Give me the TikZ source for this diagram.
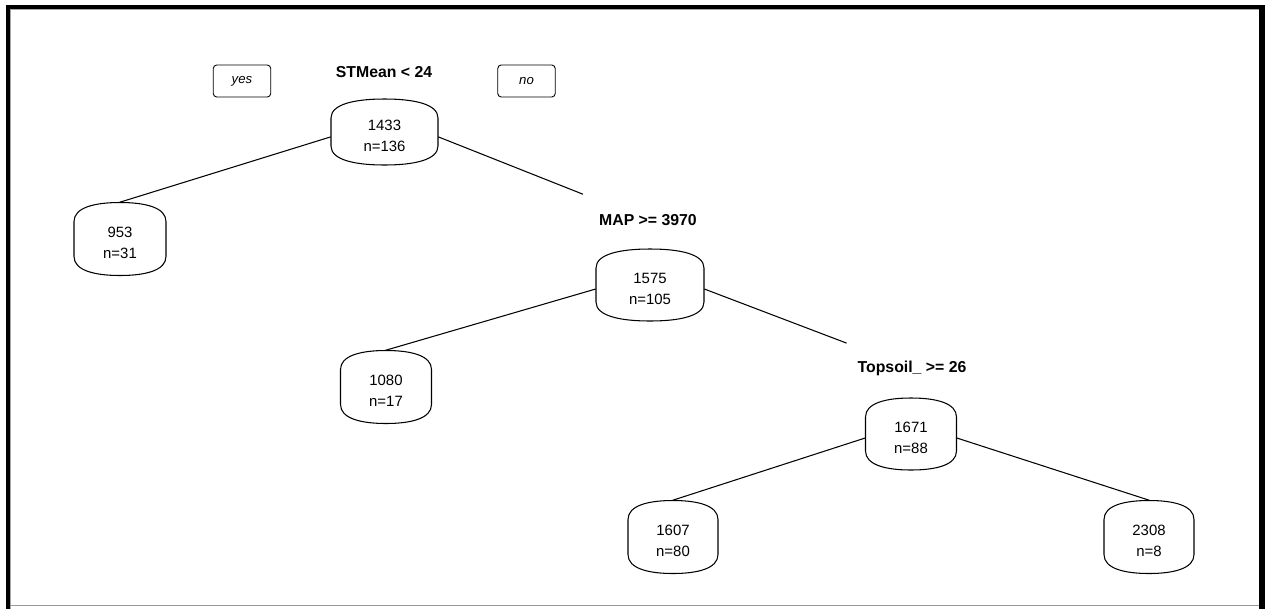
\documentclass[tikz,border=0pt]{standalone}
\usepackage{fontspec}
\setmainfont{Liberation Sans}

% #1 name, (#2,#3) centre, #4 half width, #5 half height, #6 text
\newcommand{\blob}[6]{%
  \draw[outline] (#2-#4,#3-#5+19) .. controls (#2-#4,#3-#5+5) and (#2-0.55*#4,#3-#5) .. (#2,#3-#5)
    .. controls (#2+0.55*#4,#3-#5) and (#2+#4,#3-#5+5) .. (#2+#4,#3-#5+19)
    -- (#2+#4,#3+#5-19)
    .. controls (#2+#4,#3+#5-5) and (#2+0.55*#4,#3+#5) .. (#2,#3+#5)
    .. controls (#2-0.55*#4,#3+#5) and (#2-#4,#3+#5-5) .. (#2-#4,#3+#5-19)
    -- cycle;
  % text sits a little below the middle
  \node[cell, minimum width=#4*0.04cm, minimum height=(#5+4)*0.04cm] (#1) at (#2,#3+4) {#6};}

\begin{document}
\begin{tikzpicture}[x=0.02cm, y=-0.02cm,
    outline/.style={line width=0.6pt},
    cell/.style={inner sep=0pt, align=center, font=\fontsize{8.5}{12}\selectfont},
    split/.style={inner sep=0pt, font=\fontsize{9}{11}\selectfont\bfseries},
    tag/.style={draw, line width=0.5pt, rounded corners=2pt, minimum width=1.15cm, minimum height=0.64cm,
      inner sep=0pt, font=\fontsize{7.5}{9}\selectfont\itshape},
    branch/.style={line width=0.6pt}]
  \useasboundingbox (0,0) rectangle (1265,609);
  % frame
  \fill[black] (6,5) rectangle (10,609);
  \fill[black] (6,5) rectangle (1265,9);
  \fill[black] (1259,5) rectangle (1265,609);
  \draw[gray!70, line width=0.4pt] (10.5,609) -- (10.5,9.5) -- (1259,9.5);
  \draw[gray!80, line width=0.5pt] (10,605) -- (1259,605);

  % split labels
  \node[split] (stmean) at (384,72) {STMean < 24};
  \node[split] (map) at (648,220) {MAP >= 3970};
  \node[split] (topsoil) at (912,368) {Topsoil\_ >= 26};
  \node[tag] (yes) at (242,81) {yes};
  \node[tag] (no) at (526.5,81) {no};

  % nodes
  \blob{root}{384.5}{132}{53.5}{33}{1433\\n=136}
  \blob{l953}{120}{239}{46}{36.5}{953\\n=31}
  \blob{m1575}{650}{285}{54}{36}{1575\\n=105}
  \blob{l1080}{386}{387}{45.5}{36.5}{1080\\n=17}
  \blob{m1671}{911}{434}{45.5}{36}{1671\\n=88}
  \blob{l1607}{673}{537}{45}{36.5}{1607\\n=80}
  \blob{l2308}{1149}{537}{45}{36.5}{2308\\n=8}

  % branches
  \draw[branch] ([yshift=-0.5pt]root.west) -- (l953.north);
  \draw[branch, shorten >=1.4cm] ([yshift=-0.5pt]root.east) -- (map.center);
  \draw[branch] (m1575.west) -- (l1080.north);
  \draw[branch, shorten >=1.4cm] (m1575.east) -- (topsoil.center);
  \draw[branch] (m1671.west) -- (l1607.north);
  \draw[branch] (m1671.east) -- (l2308.north);
\end{tikzpicture}
\end{document}
